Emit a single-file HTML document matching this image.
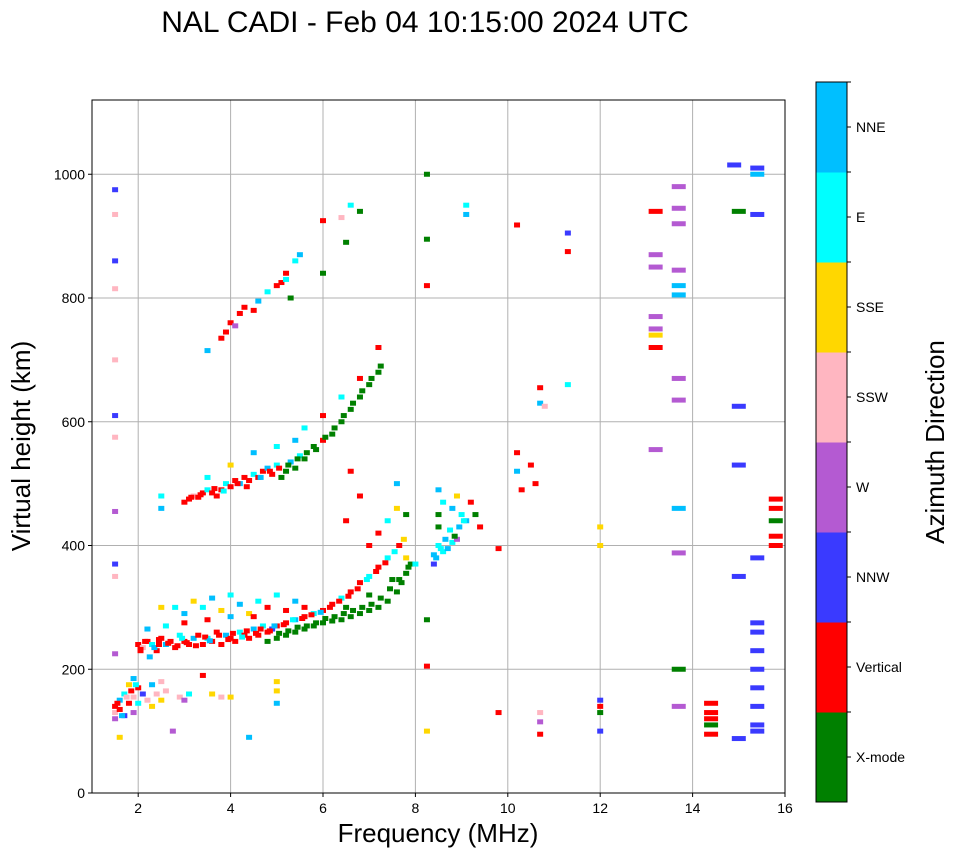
<!DOCTYPE html>
<html><head><meta charset="utf-8"><style>
body{margin:0;background:#fff;font-family:"Liberation Sans",sans-serif}
svg text{font-family:"Liberation Sans",sans-serif}
</style></head><body>
<svg id="chart" width="958" height="857" viewBox="0 0 958 857">
<text x="425" y="32" font-size="30" text-anchor="middle">NAL CADI - Feb 04 10:15:00 2024 UTC</text>
<g id="grid"></g>
<g id="marks"></g>
<rect x="92" y="100" width="693" height="693" fill="none" stroke="#000" stroke-width="1"/>
<g id="axes"></g>
<text x="438" y="842" font-size="26" text-anchor="middle">Frequency (MHz)</text>
<text transform="translate(30,446) rotate(-90)" font-size="26" text-anchor="middle">Virtual height (km)</text>
<g id="cbar"></g>
<text transform="translate(944,442) rotate(-90)" font-size="26" text-anchor="middle">Azimuth Direction</text>
</svg>
<script>
const dirLabels=["X-mode","Vertical","NNW","W","SSW","SSE","E","NNE"];
const dirColors=["#008000","#ff0000","#3a3aff","#b45ad2","#ffb6c1","#ffd700","#00ffff","#00bfff"];
const xTicks=[2,4,6,8,10,12,14,16];
const yTicks=[0,200,400,600,800,1000];
const freqs=[1.5,1.5,1.5,1.6,1.6,1.7,1.7,1.8,1.8,1.9,1.9,1.9,2.0,2.0,2.1,2.2,2.3,2.3,2.4,2.5,2.5,2.6,2.9,3.0,3.1,3.4,3.6,3.8,4.0,1.5,1.5,1.5,1.5,1.5,1.5,1.5,1.5,1.5,1.5,1.5,5.0,5.0,5.0,4.4,1.6,2.75,
2.0,2.1,2.2,2.3,2.4,2.5,2.6,2.7,2.8,2.9,3.0,3.1,3.2,3.3,3.4,3.5,3.6,3.7,3.8,3.9,4.0,4.1,4.2,4.3,4.4,4.5,4.6,4.7,4.8,4.9,5.0,5.2,5.4,5.6,5.8,6.0,6.2,6.4,6.6,6.8,7.0,7.2,7.4,
2.5,2.8,3.0,3.2,3.4,3.6,3.8,4.0,4.2,4.4,4.6,4.8,5.0,5.2,5.4,5.6,3.0,3.5,4.0,4.5,2.2,2.6,
4.8,5.0,5.2,5.4,5.6,5.8,6.0,6.2,6.4,6.6,6.8,7.0,7.2,7.4,7.6,7.7,7.8,7.9,6.5,7.0,7.5,
7.8,8.0,8.4,8.4,8.5,8.6,8.7,8.8,8.9,8.5,8.5,8.6,8.8,8.9,9.0,9.1,9.2,9.3,9.4,8.5,7.0,7.2,7.4,7.6,7.8,6.8,6.6,6.5,7.6,
3.0,3.1,3.2,3.3,3.4,3.5,3.6,3.7,3.8,3.9,4.0,4.1,4.2,4.3,4.4,4.5,4.6,4.7,4.8,4.9,5.0,5.1,5.2,5.3,5.4,5.5,5.6,5.8,6.0,6.2,6.4,6.6,6.8,7.0,7.2,5.0,5.4,5.6,6.0,6.4,6.8,7.2,3.5,4.0,4.5,2.5,2.5,
3.8,3.9,4.0,4.1,4.2,4.3,4.5,4.6,4.8,5.0,5.1,5.2,5.3,5.4,5.5,5.2,3.5,
6.5,6.4,6.6,6.0,6.8,6.0,8.25,8.25,8.25,8.25,8.25,8.25,9.1,9.1,10.2,11.3,11.3,10.7,10.7,10.8,11.3,10.2,10.2,10.3,10.5,10.6,9.8,9.8,10.7,10.7,10.7,12.0,12.0,12.0,12.0,12.0,12.0,13.2,13.2,13.2,13.2,13.2,13.2,13.2,13.2,13.7,13.7,13.7,13.7,13.7,13.7,13.7,13.7,13.7,13.7,13.7,13.7,14.4,14.4,14.4,14.4,14.4,15.0,15.0,15.0,15.0,15.0,15.4,15.4,15.4,15.4,15.4,15.4,15.4,15.4,15.4,15.4,15.4,15.4,15.8,15.8,15.8,15.8,15.8,14.9,
2.05,2.15,2.35,2.45,2.65,2.85,2.95,3.05,3.25,3.45,3.55,3.75,3.95,4.05,4.25,4.35,4.55,4.65,4.85,4.95,5.15,5.35,5.55,5.75,5.95,6.15,6.35,6.55,6.75,6.95,7.15,7.35,7.55,7.65,7.75,
3.15,3.35,3.65,3.85,4.15,4.35,4.65,4.85,5.05,5.25,5.45,5.65,5.85,6.05,6.25,6.45,6.65,6.85,7.05,7.25,
5.05,5.25,5.45,5.65,5.85,6.05,6.25,6.45,6.65,6.85,7.05,7.25,7.45,7.65,7.85,
1.55,1.65,1.75,1.85,1.95,2.05,2.25,2.45,8.45,8.55,8.65,8.75,8.85,8.95,9.05];
const heights=[140,130,120,150,135,160,125,175,145,185,155,130,170,145,160,150,175,140,160,180,150,165,155,150,160,190,160,155,155,225,350,370,455,575,610,700,815,860,935,975,180,165,145,90,90,100,
240,235,245,240,230,250,240,245,235,255,245,240,250,255,240,250,245,260,240,255,250,245,260,255,250,265,255,270,260,265,270,275,280,285,290,295,305,315,325,340,350,365,380,
300,300,290,310,300,315,295,320,305,290,310,300,320,295,310,300,275,280,285,285,265,270,
245,250,255,260,265,270,275,278,280,285,290,295,300,310,325,340,355,370,300,320,345,
380,370,370,385,400,390,395,405,410,430,450,470,460,480,450,440,470,450,430,490,400,420,440,460,450,480,520,440,500,
470,475,480,478,485,490,485,480,490,500,495,505,500,510,505,515,510,520,525,515,530,510,520,535,525,545,540,560,570,580,600,620,640,660,680,560,570,590,610,640,670,720,510,530,550,480,460,
735,745,760,755,775,785,780,795,810,820,825,830,800,860,870,840,715,
890,930,950,925,940,840,1000,895,820,280,205,100,950,935,918,905,875,655,630,625,660,550,520,490,530,500,395,130,130,115,95,150,140,130,100,430,400,940,870,850,770,750,740,720,555,980,945,920,845,820,805,670,635,460,388,200,140,145,130,120,110,95,940,625,530,350,88,1010,1000,935,380,275,260,230,200,170,140,110,100,475,460,440,415,400,1015,
232,245,235,248,242,238,250,243,238,252,246,255,248,258,252,262,258,265,262,270,272,280,282,288,292,300,310,318,330,345,358,372,390,400,410,
478,482,492,488,500,495,510,520,525,530,540,550,555,575,590,610,630,650,670,690,
258,262,268,270,275,282,285,290,295,300,305,315,330,345,365,
145,125,155,165,175,230,220,240,380,395,410,425,415,430,440];
const dirs=[1,4,3,7,1,6,2,5,1,7,4,3,1,6,2,4,7,5,4,4,5,4,4,3,6,1,5,4,5,3,4,2,3,4,2,4,4,2,4,2,5,5,7,7,5,3,
1,4,1,6,1,1,7,1,1,6,1,1,7,1,1,6,1,1,1,7,1,1,6,1,1,7,1,6,1,2,1,1,7,1,6,1,1,6,1,1,6,1,6,
5,6,7,5,6,7,5,6,7,5,6,1,6,1,7,1,1,1,7,1,7,6,
0,0,0,0,0,0,0,0,0,0,0,0,0,0,0,0,0,0,0,0,0,
5,6,2,7,6,6,7,6,3,0,0,6,7,5,6,7,1,0,1,7,1,1,6,5,0,1,1,1,7,
1,1,4,1,1,6,1,1,1,6,1,1,7,1,1,6,1,1,7,1,6,0,0,7,0,6,0,0,1,0,0,0,0,0,0,6,7,6,1,6,1,1,6,5,7,6,7,
1,1,1,3,1,1,1,7,6,1,1,6,0,6,7,1,7,
0,4,6,1,0,0,0,0,1,0,1,5,6,7,1,2,1,1,7,4,6,1,7,1,1,1,1,1,4,3,1,2,1,0,2,5,5,1,3,3,3,3,5,1,3,3,3,3,3,7,7,3,3,7,3,0,3,1,1,1,0,1,0,2,2,2,2,2,7,2,2,2,2,2,2,2,2,2,2,1,1,0,1,1,2,
1,1,7,1,1,1,6,1,1,1,7,1,1,1,6,1,1,1,1,7,1,6,1,1,7,1,1,1,1,6,1,1,6,1,5,
1,1,1,6,1,1,7,1,1,0,0,0,0,0,0,0,0,0,0,0,
0,0,0,0,0,0,0,0,0,0,0,0,0,0,0,
1,7,4,1,6,1,7,1,7,6,7,6,0,7,6];

const NS="http://www.w3.org/2000/svg";
const X0=92,X1=785,Y0=793,Y1=100;
const xs=f=>X0+(f-1)/(16-1)*(X1-X0);
const ys=h=>Y0-h/1120*(Y0-Y1);
function mk(tag,attrs,parent){const e=document.createElementNS(NS,tag);for(const k in attrs)e.setAttribute(k,attrs[k]);parent.appendChild(e);return e;}
const grid=document.getElementById('grid'),axes=document.getElementById('axes'),marks=document.getElementById('marks'),cbar=document.getElementById('cbar');
xTicks.forEach(t=>{const x=xs(t);
 const l=mk('line',{x1:x,x2:x,y1:Y1,y2:Y0,stroke:'#b0b0b0','stroke-width':1},grid);
 
 mk('line',{x1:x,x2:x,y1:Y0,y2:Y0+4,stroke:'#000'},axes);
 const tx=mk('text',{x:x,y:Y0+20,'font-size':14,'text-anchor':'middle'},axes);tx.textContent=t;
 });
yTicks.forEach(t=>{const y=ys(t);
 const l=mk('line',{x1:X0,x2:X1,y1:y,y2:y,stroke:'#b0b0b0','stroke-width':1},grid);
 
 mk('line',{x1:X0-4,x2:X0,y1:y,y2:y,stroke:'#000'},axes);
 const tx=mk('text',{x:X0-7,y:y+5,'font-size':14,'text-anchor':'end'},axes);tx.textContent=t;
 });
for(let i=0;i<freqs.length;i++){
 const w=freqs[i]>=13?14:6;
 const r=mk('rect',{x:xs(freqs[i])-w/2,y:ys(heights[i])-2.5,width:w,height:5,fill:dirColors[dirs[i]]},marks);
 }
const CX=816,CW=31,CT=82,CB=802,ch=(CB-CT)/dirLabels.length;
dirLabels.forEach((lab,i)=>{const y=CB-(i+1)*ch;
 const r=mk('rect',{x:CX,y:y,width:CW,height:ch+0.5,fill:dirColors[i]},cbar);
 
 mk('line',{x1:CX+CW,x2:CX+CW+4,y1:y+ch/2,y2:y+ch/2,stroke:'#000'},cbar);
 mk('line',{x1:CX+CW-4,x2:CX+CW+4,y1:y,y2:y,stroke:'#000'},cbar);
 const tx=mk('text',{x:CX+CW+9,y:y+ch/2+5,'font-size':14},cbar);tx.textContent=lab;
 });
mk('rect',{x:CX,y:CT,width:CW,height:CB-CT,fill:'none',stroke:'#000'},cbar);
</script>
</body></html>
